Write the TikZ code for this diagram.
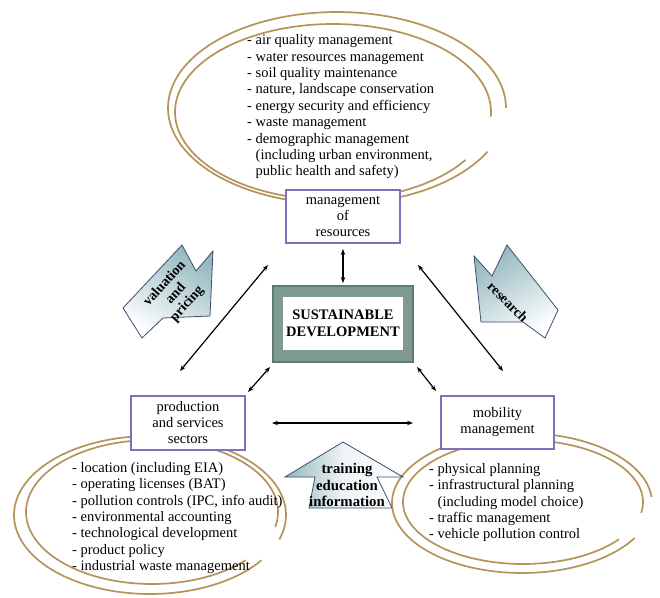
\documentclass[tikz,border=0pt]{standalone}
\usepackage{fontspec}
\setmainfont{Liberation Serif}
\usetikzlibrary{arrows.meta}
\definecolor{tanline}{HTML}{B4945A}
\definecolor{boxline}{HTML}{7A72BC}
\definecolor{sdfill}{HTML}{7F9A93}
\definecolor{sdline}{HTML}{5E7A73}
\definecolor{arrfill}{HTML}{93B8BE}
\definecolor{arrline}{HTML}{414C6C}
\begin{document}
\begin{tikzpicture}[x=1pt,y=-1pt,
  swirl/.style={draw=tanline, line width=1.7pt},
  mbox/.style={draw=boxline, line width=1.5pt, fill=white, inner sep=0pt, align=center,
    font=\fontsize{14.5}{16}\selectfont},
  listtext/.style={inner sep=0pt, align=left, anchor=north west, font=\fontsize{14.5}{16.4}\selectfont},
  link/.style={{Stealth[length=6pt,width=4.5pt]}-{Stealth[length=6pt,width=4.5pt]}, line width=1.2pt, black},
  bigarrow/.style={draw=arrline, line width=0.8pt},
  arrtext/.style={font=\bfseries\fontsize{14}{15}\selectfont, align=center, inner sep=0pt}
]
\useasboundingbox (0,0) rectangle (660,597);
\fill[white] (0,0) rectangle (660,597);

% ---------- swirls ----------
\draw[swirl] plot[domain=27:360, samples=140, smooth] ({337+169*cos(\x)},{108+96*sin(\x)});
\draw[swirl] plot[domain=33:363, samples=140, smooth] ({333+158*cos(\x)},{112+88*sin(\x)});

\draw[swirl] plot[domain=35:378, samples=140, smooth] ({150+136*cos(\x)},{515+79*sin(\x)});
\draw[swirl] plot[domain=42:372, samples=140, smooth] ({152+126*cos(\x)},{512+72*sin(\x)});

\draw[swirl] plot[domain=30:355, samples=140, smooth] ({522+130*cos(\x)},{503+70*sin(\x)});
\draw[swirl] plot[domain=37:370, samples=140, smooth] ({523+120*cos(\x)},{502+62*sin(\x)});

% ---------- lists ----------
\node[listtext] (toplist) at (247,34.5) {- air quality management\\
- water resources management\\
- soil quality maintenance\\
- nature, landscape conservation\\
- energy security and efficiency\\
- waste management\\
- demographic management\\
\hspace*{8.5pt}(including urban environment,\\
\hspace*{8.5pt}public health and safety)};

\node[listtext] (leftlist) at (72,462) {- location (including EIA)\\
- operating licenses (BAT)\\
- pollution controls (IPC, info audit)\\
- environmental accounting\\
- technological development\\
- product policy\\
- industrial waste management};

\node[listtext] (rightlist) at (429,463) {- physical planning\\
- infrastructural planning\\
\hspace*{8.5pt}(including model choice)\\
- traffic management\\
- vehicle pollution control};

% ---------- boxes ----------
\node[mbox, minimum width=114pt, minimum height=53pt] (mgmt) at (343,216.5) {management\\of\\resources};
\node[mbox, minimum width=114pt, minimum height=54pt] (prod) at (188,423) {production\\and services\\sectors};
\node[mbox, minimum width=113pt, minimum height=53pt] (mob) at (497.5,422.5) {mobility\\management};

\node[draw=sdline, fill=sdfill, line width=1.2pt, minimum width=140pt, minimum height=76pt] (sdouter) at (343,324) {};
\node[fill=white, minimum width=120pt, minimum height=53pt, align=center, inner sep=0pt,
  font=\bfseries\fontsize{14.5}{17.5}\selectfont] (sd) at (343,323.5) {SUSTAINABLE\\DEVELOPMENT};

% ---------- connectors ----------
\coordinate (mgB) at (343,249);
\coordinate (sdT) at (343,283);
\coordinate (dl1) at (268,265);
\coordinate (dl2) at (180,371);
\coordinate (dr1) at (418,265);
\coordinate (dr2) at (503,371);
\coordinate (sl1) at (270,367);
\coordinate (sl2) at (248,392);
\coordinate (sr1) at (417,367);
\coordinate (sr2) at (436,391);
\coordinate (h1) at (272,423);
\coordinate (h2) at (413,423);
\draw[link] (mgB) -- (sdT);
\draw[link] (dl1) -- (dl2);
\draw[link] (dr1) -- (dr2);
\draw[link] (sl1) -- (sl2);
\draw[link] (sr1) -- (sr2);
\draw[link] (h1) -- (h2);

% ---------- big arrows ----------
\shade[bigarrow, left color=arrfill, right color=white, shading angle=-30]
  (182,245) -- (196,271) -- (213,251) -- (210,316) -- (163,318) -- (142,338) -- (123,308) -- cycle;
\node[arrtext, rotate=48] (val) at (176,294) {valuation\\and\\pricing};

\shade[bigarrow, left color=arrfill, right color=white, shading angle=30]
  (474,256) -- (492,276) -- (507,245) -- (558,310) -- (545,338) -- (523,322) -- (481,322) -- cycle;
\node[arrtext, rotate=-45] (res) at (508,302) {research};

\shade[bigarrow, left color=arrfill, right color=white, middle color=white!85!arrfill]
  (343,442) -- (403,477) -- (377,477) -- (392,508) -- (309,508) -- (315,477) -- (285,477) -- cycle;
\node[arrtext, font=\bfseries\fontsize{14.8}{16.5}\selectfont] (train) at (347,485) {training\\education\\information};

\end{tikzpicture}
\end{document}
